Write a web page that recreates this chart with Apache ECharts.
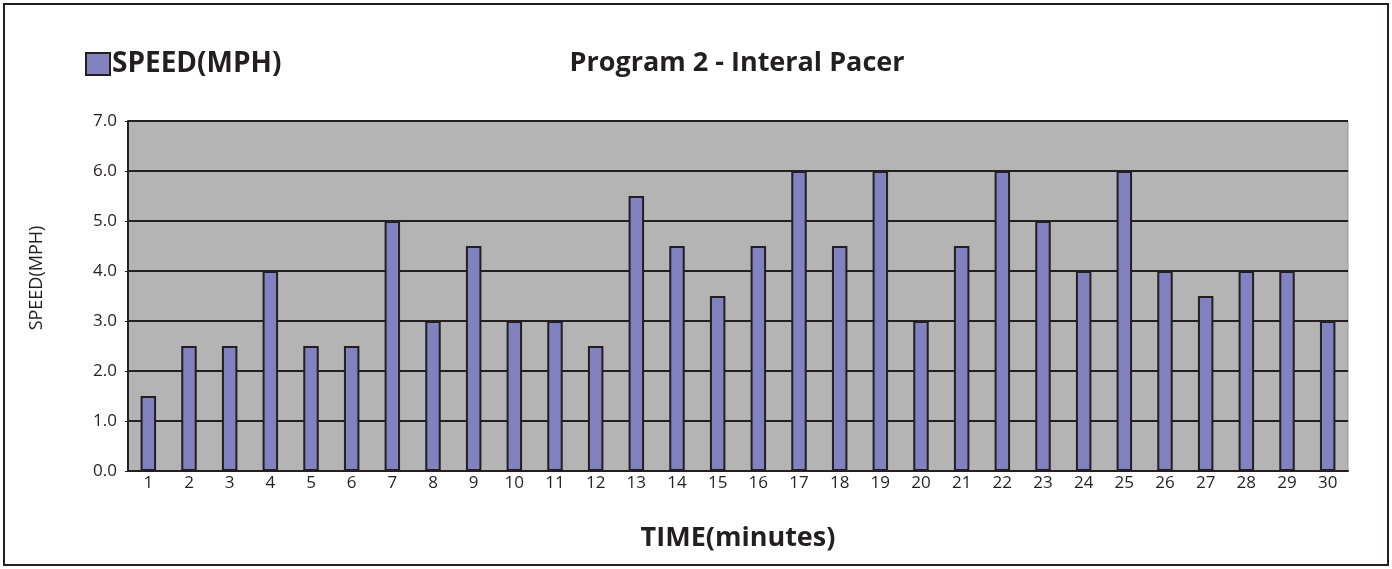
<!DOCTYPE html>
<html>
<head>
<meta charset="utf-8">
<style>
html,body{margin:0;padding:0;background:#fff;}
#chart{width:1392px;height:569px;}
</style>
<script src="https://cdn.jsdelivr.net/npm/echarts@6/dist/echarts.min.js"></script>
</head>
<body>
<div id="chart"></div>
<script>
const categories = ['1','2','3','4','5','6','7','8','9','10','11','12','13','14','15','16','17','18','19','20','21','22','23','24','25','26','27','28','29','30'];
const speed = [1.5,2.5,2.5,4,2.5,2.5,5,3,4.5,3,3,2.5,5.5,4.5,3.5,4.5,6,4.5,6,3,4.5,6,5,4,6,4,3.5,4,4,3];
const yTicks = [0,1,2,3,4,5,6,7];

const chart = echarts.init(document.getElementById('chart'));
const font = '"Open Sans", "Noto Sans", sans-serif';
chart.setOption({
  animation: false,
  textStyle: {fontFamily: font},
  title: {
    text: 'Program 2 - Interal Pacer',
    left: 732, top: 45, textAlign: 'center',
    textStyle: {fontSize: 27, fontWeight: 'bold', color: '#231f20', fontFamily: font}
  },
  legend: {
    left: 80, top: 45,
    itemWidth: 24, itemHeight: 22, itemGap: 4,
    textStyle: {fontSize: 28, fontWeight: 'bold', color: '#231f20', fontFamily: font, padding: [0,0,0,-3]},
    data: [{name: 'SPEED(MPH)', icon: 'rect', itemStyle: {borderColor: '#231f20', borderWidth: 2}}]
  },
  graphic: [{
    type: 'rect', shape: {x: 4, y: 4, width: 1384, height: 561},
    style: {fill: 'none', stroke: '#231f20', lineWidth: 2}, silent: true
  }],
  grid: {
    left: 128, right: 44, top: 121, bottom: 98,
    show: true, backgroundColor: '#b4b4b4', borderColor: '#9a9a9a', borderWidth: 1
  },
  xAxis: {
    type: 'category', data: categories,
    name: 'TIME(minutes)', nameLocation: 'middle', nameGap: 54,
    nameTextStyle: {fontSize: 27, fontWeight: 'bold', color: '#231f20', fontFamily: font},
    axisLine: {lineStyle: {color: '#231f20', width: 2}},
    axisTick: {inside: true, length: 4, lineStyle: {color: '#231f20', width: 2}},
    axisLabel: {fontSize: 17, color: '#231f20', margin: 4, interval: 0, fontFamily: font}
  },
  yAxis: {
    type: 'value', min: 0, max: 7, interval: 1,
    name: 'SPEED(MPH)', nameLocation: 'middle', nameGap: 82,
    nameTextStyle: {fontSize: 18, color: '#231f20', fontFamily: font, padding: [0,0,0,36]},
    axisLine: {show: true, lineStyle: {color: '#231f20', width: 2}},
    axisTick: {show: true, length: 3, lineStyle: {color: '#231f20'}},
    axisLabel: {fontSize: 17, color: '#231f20', margin: 11, fontFamily: font,
      formatter: v => yTicks.includes(v) ? v.toFixed(1) : ''},
    splitLine: {lineStyle: {color: '#231f20', width: 2}}
  },
  series: [{
    name: 'SPEED(MPH)', type: 'bar', data: speed,
    barWidth: '38%',
    itemStyle: {color: '#8282c0', borderColor: '#231f20', borderWidth: 2}
  }]
});
</script>
</body>
</html>
